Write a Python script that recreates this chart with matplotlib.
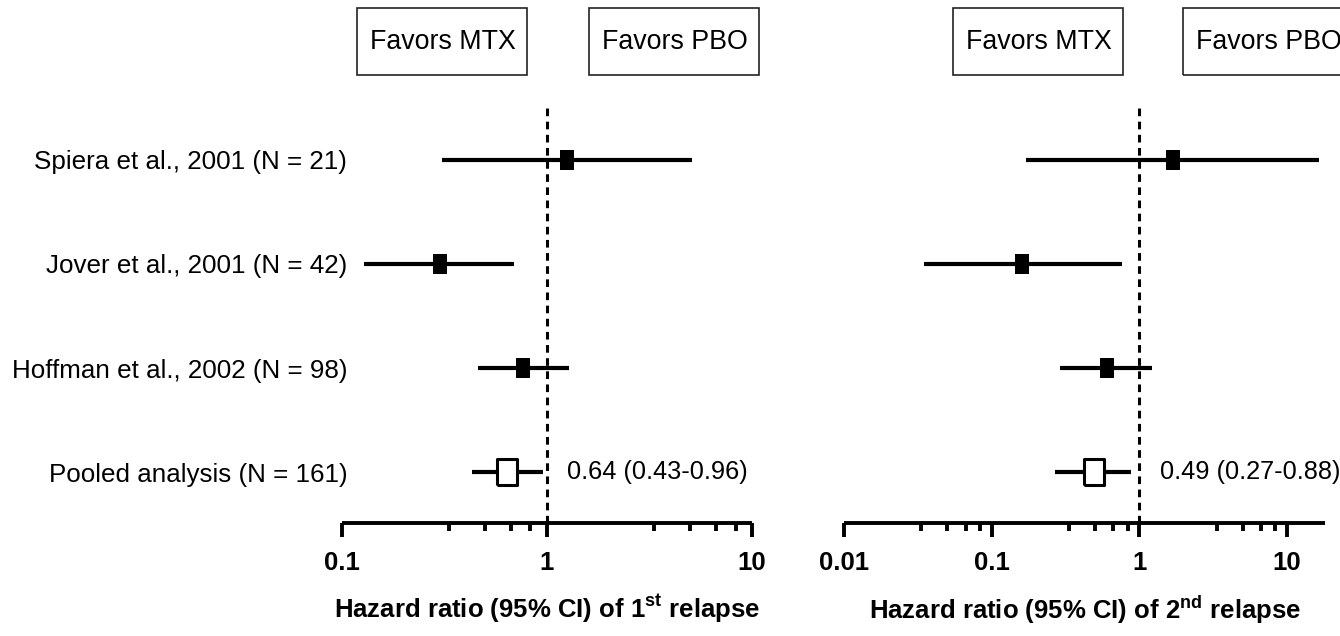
import numpy as np
import matplotlib
matplotlib.use("Agg")
import matplotlib.pyplot as plt
import matplotlib.transforms as mtrans
from matplotlib.patches import Rectangle
from matplotlib.ticker import FixedLocator, NullFormatter

plt.rcParams['font.family'] = ['Liberation Sans', 'DejaVu Sans']
plt.rcParams['mathtext.fontset'] = 'custom'
plt.rcParams['mathtext.rm'] = 'Liberation Sans'
plt.rcParams['mathtext.bf'] = 'Liberation Sans:bold'

studies = ["Spiera et al., 2001 (N = 21)", "Jover et al., 2001 (N = 42)",
           "Hoffman et al., 2002 (N = 98)", "Pooled analysis (N = 161)"]

# 1st relapse
hr1 = [1.26, 0.30, 0.77, 0.64]
lo1 = [0.31, 0.128, 0.46, 0.43]
hi1 = [5.14, 0.69, 1.28, 0.96]
pooled_txt1 = "0.64 (0.43-0.96)"

# 2nd relapse
hr2 = [1.70, 0.16, 0.60, 0.49]
lo2 = [0.17, 0.035, 0.29, 0.27]
hi2 = [16.5, 0.76, 1.22, 0.88]
pooled_txt2 = "0.49 (0.27-0.88)"

fig = plt.figure(figsize=(13.4, 6.36), dpi=100)
ax1 = fig.add_axes([0.255, 0.1777, 0.306, 0.8223])
ax2 = fig.add_axes([0.6299, 0.1777, 0.359, 0.8223])

rows = np.arange(len(studies), 0, -1)
sq = [(-0.37, -0.5), (0.37, -0.5), (0.37, 0.5), (-0.37, 0.5), (-0.37, -0.5)]


def panel(ax, hr, lo, hi, txt, xlim, majors, minors_base, xlabel, boxes):
    ax.set_xscale('log')
    ax.set_xlim(*xlim)
    ax.set_ylim(0.51, 5.538)
    ax.axvline(1, ymin=0, ymax=(4.51 - 0.51) / (5.538 - 0.51), color='black',
               lw=2.2, ls=(0, (2.5, 1.8)), zorder=1)
    for i in range(len(hr)):
        y = rows[i]
        ax.plot([lo[i], hi[i]], [y, y], color='black', lw=3, solid_capstyle='butt', zorder=2)
        if i < len(hr) - 1:
            ax.plot(hr[i], y, marker=sq, ms=13.7, color='black', mec='black', mew=0, zorder=3)
        else:
            ax.plot(hr[i], y, marker=sq, ms=19.4, mfc='white', mec='black', mew=2.2, zorder=3)
    ax.annotate(txt, xy=(1, rows[-1]), xytext=(14.5, 0), textcoords='offset points',
                ha='left', va='center', fontsize=18.3)
    for s in ['top', 'right', 'left']:
        ax.spines[s].set_visible(False)
    ax.spines['bottom'].set_linewidth(2.8)
    ax.spines['bottom'].set_capstyle('butt')
    ax.xaxis.set_major_locator(FixedLocator(majors))
    ax.set_xticklabels([('%g' % m) for m in majors])
    minors = [b * m for m in majors for b in minors_base if b * m < xlim[1]]
    ax.xaxis.set_minor_locator(FixedLocator(minors))
    ax.xaxis.set_minor_formatter(NullFormatter())
    ax.tick_params(axis='x', which='major', length=10, width=2.8, pad=10,
                   labelsize=18.5)
    ax.tick_params(axis='x', which='minor', length=5.5, width=2.8)
    for lab in ax.get_xticklabels():
        lab.set_fontweight('bold')
    ax.set_xlabel(xlabel, fontsize=18.5, fontweight='bold', labelpad=13)
    tr = mtrans.blended_transform_factory(ax.transAxes, ax.transData)
    for (x0, x1), label in zip(boxes, ["Favors MTX", "Favors PBO"]):
        ax.add_patch(Rectangle((x0, 4.817), x1 - x0, 5.46 - 4.817, transform=tr,
                               fill=False, ec='#222222', lw=1.2, clip_on=False))
        ax.annotate(label, xy=(x0, (4.817 + 5.46) / 2), xycoords=tr,
                    xytext=(9.4, 0), textcoords='offset points',
                    ha='left', va='center', fontsize=19.3)


panel(ax1, hr1, lo1, hi1, pooled_txt1, (0.1, 10), [0.1, 1, 10],
      [10 / 3, 5, 20 / 3, 25 / 3], r'Hazard ratio (95% CI) of 1$^{\mathbf{st}}$ relapse',
      [(0.037, 0.452), (0.603, 1.017)])
panel(ax2, hr2, lo2, hi2, pooled_txt2, (0.01, 18.1), [0.01, 0.1, 1, 10],
      [10 / 3, 5, 20 / 3, 25 / 3], r'Hazard ratio (95% CI) of 2$^{\mathbf{nd}}$ relapse',
      [(0.227, 0.580), (0.705, 1.058)])

ax1.set_yticks(rows)
ax1.set_yticklabels(studies, fontsize=18.7)
ax1.tick_params(axis='y', length=0, pad=-4)
ax2.set_yticks([])

fig.savefig("out.png", dpi=100)
